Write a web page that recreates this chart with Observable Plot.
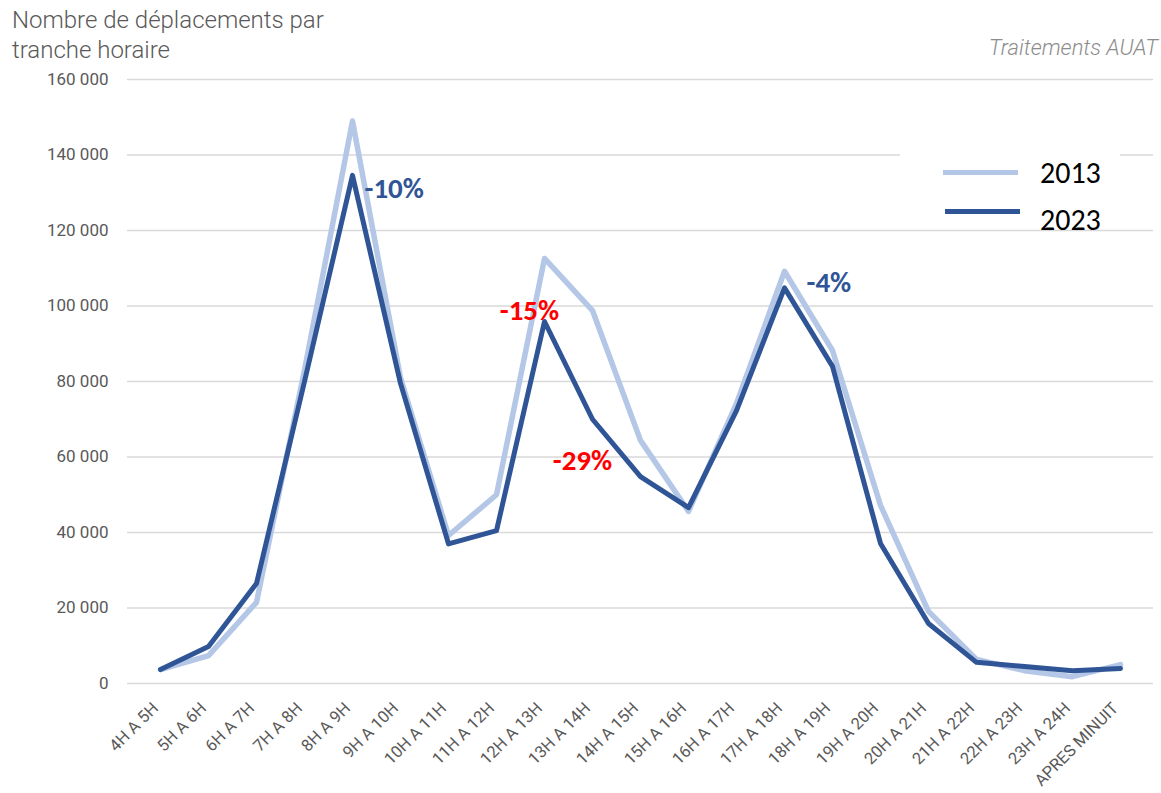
<!DOCTYPE html>
<html>
<head>
<meta charset="utf-8">
<script src="https://cdn.jsdelivr.net/npm/d3@7"></script>
<script src="https://cdn.jsdelivr.net/npm/@observablehq/plot@0.6"></script>
<style>
  html, body { margin: 0; padding: 0; background: #fff; }
  #wrap { position: relative; width: 1161px; height: 793px; overflow: hidden; }
  #title { height: 62px; box-sizing: border-box; padding: 5px 0 0 12px; font-family: Roboto, "Open Sans", sans-serif; font-size: 24px; line-height: 30px; color: #595959; font-weight: 300; }
  #credit { position: absolute; right: 3px; top: 35px; font-family: Roboto, sans-serif; font-style: italic; font-weight: 300; font-size: 22px; color: #8c8c8c; }
  #legend { position: absolute; left: 900px; top: 148px; width: 220px; height: 76px; background: #fff; }
  .lg-line { position: absolute; height: 5px; }
  .lg-text { position: absolute; font-family: Carlito, Calibri, "Liberation Sans", sans-serif; font-size: 30px; color: #000; line-height: 30px; }
</style>
</head>
<body>
<div id="wrap">
  <div id="title">Nombre de déplacements par<br>tranche horaire</div>
  <div id="credit">Traitements AUAT</div>
  <div id="chart"></div>
  <div id="legend"></div>
</div>
<script>
const categories = ["4H A 5H","5H A 6H","6H A 7H","7H A 8H","8H A 9H","9H A 10H","10H A 11H","11H A 12H","12H A 13H","13H A 14H","14H A 15H","15H A 16H","16H A 17H","17H A 18H","18H A 19H","19H A 20H","20H A 21H","21H A 22H","22H A 23H","23H A 24H","APRES MINUIT"];
const values2013 = [3700, 7400, 21500, 83000, 149000, 81000, 39200, 50000, 112600, 98800, 64400, 45600, 74200, 109200, 88200, 47200, 19100, 6400, 3400, 1800, 5000];
const values2023 = [3700, 9800, 26500, 80000, 134600, 79500, 37000, 40500, 95900, 70000, 54800, 46600, 72300, 104800, 84000, 37100, 15900, 5600, 4500, 3400, 4000];
const seriesNames = ["2013", "2023"];
const seriesColors = ["#b4c7e7", "#2f5597"];
const yTicks = [0, 20000, 40000, 60000, 80000, 100000, 120000, 140000, 160000];
const annotationLabels = ["-10%", "-15%", "-29%", "-4%"];
const annotationCategories = ["8H A 9H", "12H A 13H", "13H A 14H", "17H A 18H"];
const annotationColors = ["#2f5597", "#ff0000", "#ff0000", "#2f5597"];

const rows = [];
categories.forEach((c, i) => {
  rows.push({cat: c, value: values2013[i], series: seriesNames[0]});
  rows.push({cat: c, value: values2023[i], series: seriesNames[1]});
});
const annos = annotationLabels.map((label, i) => ({
  label,
  cat: annotationCategories[i],
  value: values2023[categories.indexOf(annotationCategories[i])],
  color: annotationColors[i]
}));

const loc = d3.formatLocale({decimal: ",", thousands: "\u00a0", grouping: [3], currency: ["", "€"]});
const fmt = loc.format(",d");

const annoFont = {fontFamily: "Carlito, Calibri, 'Open Sans', sans-serif", fontWeight: "bold", fontSize: 29};
const annoOffsets = [
  {dx: 12, dy: 13, textAnchor: "start"},
  {dx: -15, dy: -11, textAnchor: "middle"},
  {dx: -10, dy: 41, textAnchor: "middle"},
  {dx: 22, dy: -5, textAnchor: "start"}
];

const chart = Plot.plot({
  width: 1161,
  height: 731,
  marginTop: 17,
  marginBottom: 110,
  marginLeft: 127,
  marginRight: 8,
  style: {fontFamily: "Roboto, 'Open Sans', sans-serif", background: "#fff"},
  x: {type: "point", domain: categories, padding: 0.5},
  y: {domain: [0, 160000]},
  marks: [
    Plot.gridY(yTicks, {stroke: "#d9d9d9", strokeOpacity: 1, strokeWidth: 1.6}),
    Plot.axisY(yTicks, {tickSize: 0, tickPadding: 19, tickFormat: fmt, label: null, fill: "#595959", fontSize: 17}),
    Plot.axisX({tickSize: 0, tickPadding: 22, dx: -5, tickRotate: -45, label: null, fill: "#595959", fontSize: 16.5}),
    Plot.lineY(rows.filter(d => d.series === seriesNames[0]), {x: "cat", y: "value", stroke: seriesColors[0], strokeWidth: 5.5, strokeLinejoin: "round"}),
    Plot.lineY(rows.filter(d => d.series === seriesNames[1]), {x: "cat", y: "value", stroke: seriesColors[1], strokeWidth: 5, strokeLinejoin: "round"}),
    ...annos.map((a, i) => Plot.text([a], {x: "cat", y: "value", text: "label", fill: a.color, ...annoFont, ...annoOffsets[i]}))
  ]
});
document.getElementById("chart").appendChild(chart);

// legend
const legend = document.getElementById("legend");
const lgLayout = [{top: 22, left: 43, textTop: 10}, {top: 61, left: 45, textTop: 57}];
seriesNames.forEach((name, i) => {
  const line = document.createElement("div");
  line.className = "lg-line";
  line.style.left = lgLayout[i].left + "px";
  line.style.top = lgLayout[i].top + "px";
  line.style.width = "75px";
  line.style.background = seriesColors[i];
  legend.appendChild(line);
  const t = document.createElement("div");
  t.className = "lg-text";
  t.style.left = "140px";
  t.style.top = lgLayout[i].textTop + "px";
  t.textContent = name;
  legend.appendChild(t);
});
</script>
</body>
</html>
